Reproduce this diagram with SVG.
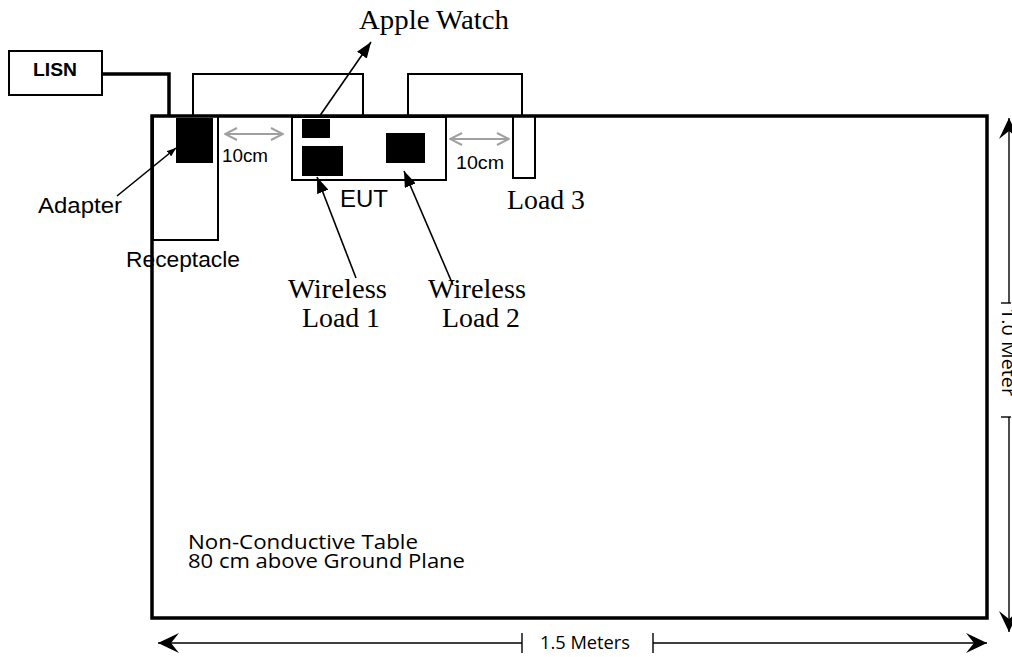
<svg xmlns="http://www.w3.org/2000/svg" width="1012" height="657" viewBox="0 0 1012 657">
  <style>
    .thick { fill: none; stroke: #000; stroke-width: 3.5; }
    .box { fill: none; stroke: #000; stroke-width: 2; }
    .blk { fill: #000; stroke: none; }
    .lead { fill: none; stroke: #000; stroke-width: 1.6; }
    .dim { fill: none; stroke: #000; stroke-width: 1.4; }
    .gap { fill: none; stroke: #a0a0a0; stroke-width: 2; }
    .sans { font-family: "Liberation Sans", Arial, sans-serif; fill: #000; }
    .cal { font-family: "Open Sans", "Liberation Sans", sans-serif; fill: #000; }
    .serif { font-family: "Liberation Serif", "Times New Roman", serif; fill: #000; font-size: 28px; }
  </style>
  <defs>
    <marker id="stealth" viewBox="0 0 21 20" refX="21" refY="10" markerWidth="21" markerHeight="20" markerUnits="userSpaceOnUse" orient="auto-start-reverse">
      <path d="M21,10 L0,0 L8,10 L0,20 Z" fill="#000"/>
    </marker>
    <marker id="tri" viewBox="0 0 16 12" refX="16" refY="6" markerWidth="16" markerHeight="12" markerUnits="userSpaceOnUse" orient="auto">
      <path d="M16,6 L0,0 L0,12 Z" fill="#000"/>
    </marker>
    <marker id="triSmall" viewBox="0 0 9 7" refX="9" refY="3.5" markerWidth="9" markerHeight="7" markerUnits="userSpaceOnUse" orient="auto">
      <path d="M9,3.5 L0,0 L0,7 Z" fill="#000"/>
    </marker>
    <marker id="chev" viewBox="0 0 14 14" refX="13" refY="7" markerWidth="14" markerHeight="14" markerUnits="userSpaceOnUse" orient="auto-start-reverse">
      <path d="M1,1 L13,7 L1,13" fill="none" stroke="#a0a0a0" stroke-width="2"/>
    </marker>
  </defs>

  <rect width="1012" height="657" fill="#fff"/>

  <!-- table outline -->
  <g id="table">
    <rect x="152" y="116" width="835" height="502" class="thick"/>
    <text class="cal" x="188" y="549" font-size="20" textLength="230" lengthAdjust="spacingAndGlyphs">Non-Conductive Table</text>
    <text class="cal" x="188" y="568" font-size="20" textLength="277" lengthAdjust="spacingAndGlyphs">80 cm above Ground Plane</text>
  </g>

  <g id="lisn">
    <rect x="9" y="51" width="93" height="44" class="box"/>
    <text class="sans" x="33" y="76" font-size="19" font-weight="bold" textLength="44" lengthAdjust="spacingAndGlyphs">LISN</text>
  </g>

  <g id="receptacle">
    <rect x="153" y="116" width="65" height="124" class="box"/>
    <text class="sans" x="126" y="267" font-size="22" textLength="114" lengthAdjust="spacingAndGlyphs">Receptacle</text>
  </g>

  <g id="adapter">
    <rect x="176" y="118" width="37" height="45" class="blk"/>
    <text class="sans" x="38" y="213" font-size="22" textLength="84" lengthAdjust="spacingAndGlyphs">Adapter</text>
  </g>

  <g id="eut">
    <rect x="292" y="117" width="154" height="63" class="box"/>
    <text class="sans" x="340" y="207" font-size="24" textLength="48" lengthAdjust="spacingAndGlyphs">EUT</text>
  </g>

  <g id="apple-watch">
    <rect x="302" y="119" width="28" height="19" class="blk"/>
    <text class="serif" x="359" y="29" textLength="150" lengthAdjust="spacingAndGlyphs">Apple Watch</text>
  </g>

  <g id="wireless-load-1">
    <rect x="302" y="146" width="41" height="30" class="blk"/>
    <text class="serif" x="288" y="298" textLength="99" lengthAdjust="spacingAndGlyphs">Wireless</text>
    <text class="serif" x="302" y="327" textLength="78" lengthAdjust="spacingAndGlyphs">Load 1</text>
  </g>

  <g id="wireless-load-2">
    <rect x="386" y="133" width="39" height="30" class="blk"/>
    <text class="serif" x="428" y="298" textLength="98" lengthAdjust="spacingAndGlyphs">Wireless</text>
    <text class="serif" x="442" y="327" textLength="78" lengthAdjust="spacingAndGlyphs">Load 2</text>
  </g>

  <g id="load-3">
    <rect x="513" y="116" width="22" height="62" class="box"/>
    <text class="serif" x="507" y="209" textLength="78" lengthAdjust="spacingAndGlyphs">Load 3</text>
  </g>

  <g id="connectors">
    <!-- LISN power cord -->
    <path d="M102,74 H169 V116" class="thick"/>
    <!-- cable loops resting on the table edge -->
    <path d="M193,116 V74 H363 V116" class="box"/>
    <path d="M408,116 V74 H522 V116" class="box"/>

    <!-- callout leaders -->
    <line x1="117" y1="196" x2="176" y2="148" class="lead" marker-end="url(#triSmall)"/>
    <line x1="319" y1="117" x2="371" y2="42" class="lead" marker-end="url(#tri)"/>
    <line x1="356" y1="278" x2="317" y2="177" class="lead" marker-end="url(#tri)"/>
    <line x1="453" y1="285" x2="404" y2="171" class="lead" marker-end="url(#tri)"/>

    <!-- 10 cm spacing -->
    <line x1="225" y1="134" x2="283" y2="134" class="gap" marker-start="url(#chev)" marker-end="url(#chev)"/>
    <text class="sans" x="222" y="162" font-size="19" textLength="46" lengthAdjust="spacingAndGlyphs">10cm</text>
    <line x1="450" y1="139" x2="509" y2="139" class="gap" marker-start="url(#chev)" marker-end="url(#chev)"/>
    <text class="sans" x="456" y="169" font-size="19" textLength="48" lengthAdjust="spacingAndGlyphs">10cm</text>

    <!-- 1.5 m dimension -->
    <line x1="158" y1="643" x2="522" y2="643" class="dim" marker-start="url(#stealth)"/>
    <line x1="522" y1="633" x2="522" y2="653" class="dim"/>
    <line x1="653" y1="643" x2="987" y2="643" class="dim" marker-end="url(#stealth)"/>
    <line x1="653" y1="633" x2="653" y2="653" class="dim"/>
    <text class="cal" x="540" y="649" font-size="18" textLength="90" lengthAdjust="spacingAndGlyphs">1.5 Meters</text>

    <!-- 1.0 m dimension -->
    <line x1="1009" y1="118" x2="1009" y2="303" class="dim" marker-start="url(#stealth)"/>
    <line x1="1001" y1="303" x2="1011" y2="303" class="dim"/>
    <line x1="1009" y1="417" x2="1009" y2="632" class="dim" marker-end="url(#stealth)"/>
    <line x1="1001" y1="417" x2="1011" y2="417" class="dim"/>
    <text class="cal" transform="translate(1002,308) rotate(90)" font-size="18" textLength="88" lengthAdjust="spacingAndGlyphs">1.0 Meter</text>
  </g>
</svg>
